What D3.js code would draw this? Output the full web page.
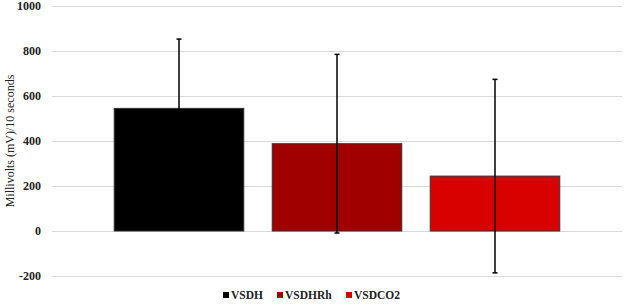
<!doctype html>
<meta charset="utf-8">
<style>
  body { margin: 0; background: #fff; }
  text { font-family: "Liberation Serif", "Times New Roman", serif; }
</style>
<body>
<script src="https://d3js.org/d3.v7.min.js"></script>
<script>
var series = ['VSDH', 'VSDHRh', 'VSDCO2'],
    means = [545, 388, 244],
    errors = [308, 397, 430],
    colors = ['#000000', '#a00000', '#d90000'],
    yTicks = [-200, 0, 200, 400, 600, 800, 1000];

var W = 624, H = 307;

var svg = d3.select('body').append('svg').attr('width', W).attr('height', H);

var y = d3.scaleLinear().domain([-200, 1000]).range([276, 6]);
var x = d3.scaleBand().domain(series).range([100, 574]).paddingInner(0.18).paddingOuter(0.09);

// gridlines
svg.append('g')
  .selectAll('line')
  .data(yTicks)
  .enter().append('line')
    .attr('x1', 52).attr('x2', 622)
    .attr('y1', function(d){ return y(d) + 0.5; })
    .attr('y2', function(d){ return y(d) + 0.5; })
    .style('stroke', '#d9d9d9')
    .style('stroke-width', 1);

// tick labels
var yAxis = svg.append('g')
  .attr('transform', 'translate(52,0)')
  .call(d3.axisLeft(y).tickValues(yTicks).tickSize(0).tickPadding(11).tickFormat(function(d){ return String(d); }));
yAxis.select('.domain').remove();
yAxis.selectAll('text')
  .style('font-family', '"Liberation Serif", serif')
  .style('font-size', '12px')
  .style('font-weight', 'bold')
  .style('fill', '#222');

// axis title
svg.append('text')
  .attr('transform', 'translate(14,141) rotate(-90)')
  .style('text-anchor', 'middle')
  .style('font-size', '12px')
  .style('fill', '#222')
  .text('Millivolts (mV)/10 seconds');

// bars
svg.append('g')
  .selectAll('rect')
  .data(series)
  .enter().append('rect')
    .attr('x', function(d){ return x(d); })
    .attr('width', x.bandwidth())
    .attr('y', function(d, i){ return y(means[i]); })
    .attr('height', function(d, i){ return y(0) - y(means[i]); })
    .style('fill', function(d, i){ return colors[i]; })
    .style('stroke', '#333')
    .style('stroke-width', 1);

// error bars
var eb = svg.append('g').selectAll('g')
  .data(series)
  .enter().append('g');
eb.append('line')
  .attr('x1', function(d){ return Math.round(x(d) + x.bandwidth() / 2); })
  .attr('x2', function(d){ return Math.round(x(d) + x.bandwidth() / 2); })
  .attr('y1', function(d, i){ return y(means[i] + errors[i]); })
  .attr('y2', function(d, i){ return y(means[i] - errors[i]); })
  .style('stroke', '#000').style('stroke-width', 1.5);
[1, -1].forEach(function(s){
  eb.append('line')
    .attr('x1', function(d){ return Math.round(x(d) + x.bandwidth() / 2) - 2.5; })
    .attr('x2', function(d){ return Math.round(x(d) + x.bandwidth() / 2) + 2.5; })
    .attr('y1', function(d, i){ return y(means[i] + s * errors[i]); })
    .attr('y2', function(d, i){ return y(means[i] + s * errors[i]); })
    .style('stroke', '#000').style('stroke-width', 1.5);
});

// legend
var legX = [223, 277, 346];
var leg = svg.append('g').selectAll('g')
  .data(series)
  .enter().append('g')
    .attr('transform', function(d, i){ return 'translate(' + legX[i] + ',296)'; });
leg.append('rect')
  .attr('x', 0).attr('y', -4).attr('width', 6).attr('height', 6)
  .style('fill', function(d, i){ return colors[i]; });
leg.append('text')
  .attr('x', 8).attr('y', 3)
  .style('font-size', '11.5px')
  .style('font-weight', 'bold')
  .style('fill', '#222')
  .text(function(d){ return d; });
</script>
</body>
